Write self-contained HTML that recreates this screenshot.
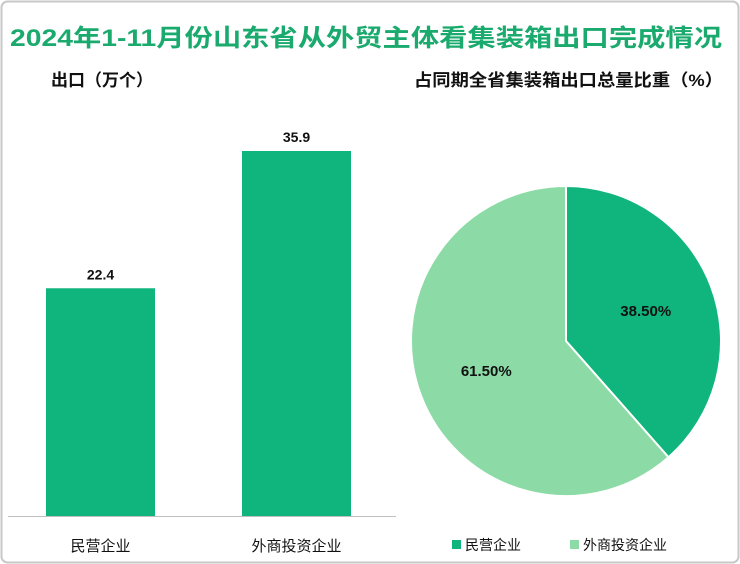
<!DOCTYPE html>
<html><head><meta charset="utf-8"><style>
body{margin:0;background:#fff;}
svg{display:block;font-family:"Liberation Sans","Noto Sans CJK SC",sans-serif;}
</style></head><body>
<svg width="740" height="564" viewBox="0 0 740 564">
<rect x="1.5" y="1.5" width="737" height="561" rx="6" fill="#fff" stroke="#c8c8c8" stroke-width="2"/>
<text x="366" y="46" text-anchor="middle" font-size="24" font-weight="bold" fill="#1aaa6e" textLength="712" lengthAdjust="spacingAndGlyphs">2024年1-11月份山东省从外贸主体看集装箱出口完成情况</text>
<text x="51" y="86" font-size="17" font-weight="bold" fill="#111">出口（万个）</text>
<text x="414" y="86" font-size="17" font-weight="bold" fill="#111" textLength="309" lengthAdjust="spacingAndGlyphs">占同期全省集装箱出口总量比重（%）</text>
<line x1="8" y1="516.5" x2="396" y2="516.5" stroke="#bfbfbf"/>
<g id="bars"></g>
<g id="pie"></g>
<g id="legend"></g>
</svg>
<script>
const categories=["民营企业","外商投资企业"];
const values=[22.4,35.9];
const pieLabels=["民营企业","外商投资企业"];
const pieValues=[38.5,61.5];
const colors=["#10b47d","#8cdba6"];
const NS="http://www.w3.org/2000/svg";
function mk(t,a,p){const e=document.createElementNS(NS,t);for(const k in a)e.setAttribute(k,a[k]);p.appendChild(e);return e;}
const base=516,scale=365/35.9,centers=[100.5,296.5],bw=109;
const y=v=>base-v*scale;
const bg=document.getElementById('bars');
values.forEach((v,i)=>{
 const r=mk('rect',{x:centers[i]-bw/2,y:y(v),width:bw,height:base-y(v),fill:colors[0]},bg);
 
 
 const t=mk('text',{x:centers[i],y:y(v)-9,'text-anchor':'middle','font-size':14,'font-weight':'bold',fill:'#111'},bg);t.textContent=v.toFixed(1);
 
 
 const c=mk('text',{x:centers[i],y:551,'text-anchor':'middle','font-size':15,fill:'#111'},bg);c.textContent=categories[i];
 
 
});
const pg=document.getElementById('pie');
const cx=566,cy=341,R=155;
const tot=pieValues.reduce((a,b)=>a+b,0);
let a0=-Math.PI/2;
pieValues.forEach((v,i)=>{
 const a1=a0+v/tot*2*Math.PI;
 const large=(a1-a0)>Math.PI?1:0;
 const p=mk('path',{d:`M${cx},${cy}L${cx+R*Math.cos(a0)},${cy+R*Math.sin(a0)}A${R},${R} 0 ${large} 1 ${cx+R*Math.cos(a1)},${cy+R*Math.sin(a1)}Z`,fill:colors[i],stroke:'#fff','stroke-width':2},pg);
 
 
 const am=(a0+a1)/2,lr=R*0.55;
 const t=mk('text',{x:cx+lr*Math.cos(am),y:cy+lr*Math.sin(am)+5,'text-anchor':'middle','font-size':15,'font-weight':'bold',fill:'#111'},pg);
 t.textContent=v.toFixed(2)+'%';
 
 
 a0=a1;
});
const lg=document.getElementById('legend');
const lx=[452,570];
pieLabels.forEach((l,i)=>{
 const s=mk('rect',{x:lx[i],y:540,width:9,height:9,fill:colors[i]},lg);
 
 
 const t=mk('text',{x:lx[i]+13,y:550,'font-size':14,fill:'#111'},lg);t.textContent=l;
 
 
});
</script>
</body></html>
